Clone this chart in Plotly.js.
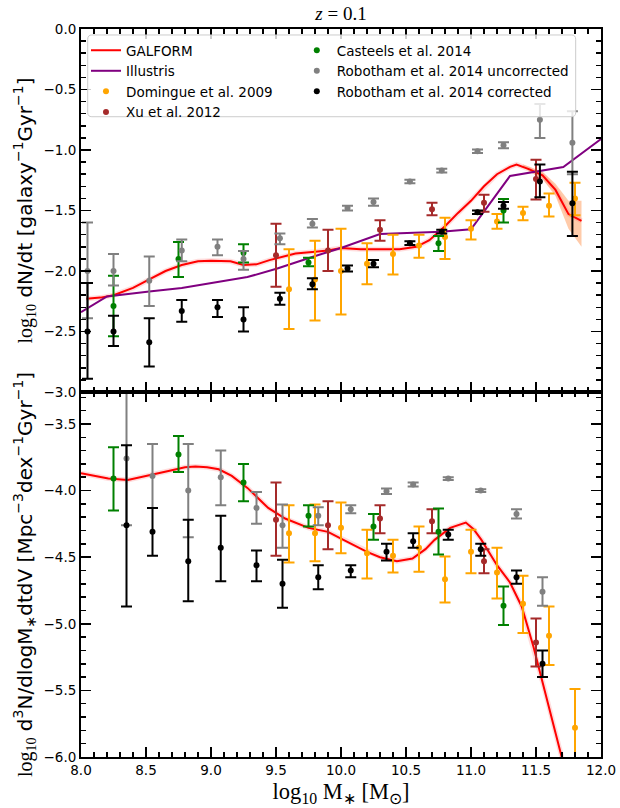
<!DOCTYPE html>
<html><head><meta charset="utf-8">
<script src="https://cdn.plot.ly/plotly-3.0.1.min.js"></script>
<style>body{margin:0;background:#fff;} #chart{width:620px;height:808px;}</style>
</head><body><div id="chart"></div>
<script>
// ---------- GALFORM (top panel: merger rate per galaxy) ----------
const galTopX = [8.04, 8.15, 8.25, 8.4, 8.525, 8.65, 8.775, 8.9, 9.0, 9.15, 9.25, 9.35, 9.45, 9.55, 9.65, 9.8, 9.9, 10.0, 10.15, 10.3, 10.45, 10.58, 10.68, 10.8, 10.9, 11.0, 11.1, 11.2, 11.3, 11.35, 11.45, 11.55, 11.65, 11.75, 11.85];
const galTopY = [-2.23, -2.22, -2.20, -2.14, -2.07, -2.00, -1.95, -1.92, -1.915, -1.92, -1.95, -1.945, -1.91, -1.88, -1.855, -1.84, -1.83, -1.81, -1.82, -1.82, -1.82, -1.80, -1.745, -1.63, -1.52, -1.42, -1.30, -1.20, -1.14, -1.12, -1.16, -1.21, -1.33, -1.53, -1.585];
const galBandX  = [11.40, 11.45, 11.55, 11.65, 11.75, 11.85];
const galBandHi = [-1.12, -1.14, -1.18, -1.28, -1.42, -1.42];
const galBandLo = [-1.13, -1.18, -1.24, -1.38, -1.65, -1.80];

// ---------- Illustris (top panel) ----------
const illX = [8.0, 8.2, 8.525, 8.775, 9.28, 9.51, 9.79, 10.0, 10.3, 10.77, 11.0, 11.3, 11.71, 12.0];
const illY = [-2.34, -2.21, -2.17, -2.14, -2.05, -1.98, -1.88, -1.81, -1.695, -1.675, -1.655, -1.215, -1.14, -0.91];

// ---------- GALFORM (bottom panel: merger rate density) ----------
const galBotX = [8.0, 8.1, 8.21, 8.36, 8.46, 8.56, 8.69, 8.8, 8.88, 8.97, 9.06, 9.16, 9.28, 9.44, 9.57, 9.75, 9.9, 10.0, 10.1, 10.2, 10.3, 10.43, 10.55, 10.65, 10.72, 10.84, 10.96, 11.02, 11.08, 11.2, 11.3, 11.39, 11.48, 11.56, 11.69, 11.75];
const galBotY = [-3.87, -3.89, -3.91, -3.92, -3.90, -3.88, -3.85, -3.825, -3.82, -3.825, -3.84, -3.89, -3.98, -4.13, -4.21, -4.28, -4.31, -4.36, -4.41, -4.46, -4.50, -4.53, -4.51, -4.44, -4.37, -4.28, -4.24, -4.29, -4.37, -4.56, -4.69, -4.87, -5.17, -5.47, -5.97, -6.2];

// ---------- Domingue et al. 2009 ----------
const domX    = [9.6, 9.8, 10.0, 10.2, 10.4, 10.6, 10.8, 11.0, 11.2, 11.4, 11.6, 11.8];
const domTopY  = [-2.15, -2.07, -2.00, -1.94, -1.86, -1.79, -1.72, -1.65, -1.59, -1.52, -1.46, -1.40];
const domTopHi = [-1.82, -1.75, -1.65, -1.77, -1.70, -1.70, -1.56, -1.58, -1.53, -1.47, -1.36, -1.27];
const domTopLo = [-2.48, -2.41, -2.36, -2.11, -2.03, -1.89, -1.90, -1.74, -1.65, -1.58, -1.55, -1.54];
const domBotY  = [-4.32, -4.32, -4.28, -4.47, -4.49, -4.43, -4.665, -4.46, -4.615, -4.85, -5.09, -5.78];
const domBotHi = [-4.11, -4.105, -4.09, -4.295, -4.37, -4.27, -4.495, -4.295, -4.43, -4.64, -4.87, -5.49];
const domBotLo = [-4.54, -4.53, -4.47, -4.66, -4.615, -4.61, -4.84, -4.62, -4.81, -5.07, -5.31, -6.2];

// ---------- Xu et al. 2012 ----------
const xuX     = [9.5, 9.9, 10.3, 10.7, 11.1, 11.5];
const xuTopY  = [-1.87, -1.83, -1.66, -1.49, -1.435, -1.24];
const xuTopHi = [-1.61, -1.66, -1.58, -1.435, -1.37, -1.08];
const xuTopLo = [-2.13, -2.00, -1.75, -1.54, -1.51, -1.41];
const xuBotY  = [-4.22, -4.26, -4.21, -4.23, -4.53, -5.14];
const xuBotHi = [-3.94, -4.08, -4.11, -4.14, -4.44, -4.96];
const xuBotLo = [-4.49, -4.44, -4.32, -4.32, -4.62, -5.32];

// ---------- Casteels et al. 2014 ----------
const casTopX  = [8.25, 8.75, 9.25, 9.75, 10.75, 11.25];
const casTopY  = [-2.29, -1.90, -1.85, -1.93, -1.77, -1.50];
const casTopHi = [-2.04, -1.76, -1.78, -1.89, -1.71, -1.405];
const casTopLo = [-2.54, -2.05, -1.93, -1.96, -1.835, -1.60];
const casBotX  = [8.25, 8.75, 9.25, 9.75, 10.25, 10.75, 11.25];
const casBotY  = [-3.91, -3.73, -3.94, -4.19, -4.27, -4.31, -4.865];
const casBotHi = [-3.675, -3.59, -3.80, -4.11, -4.175, -4.135, -4.72];
const casBotLo = [-4.15, -3.86, -4.08, -4.27, -4.37, -4.48, -5.01];

// ---------- Robotham et al. 2014 (top panel bins) ----------
const robTopX   = [8.05, 8.25, 8.525, 8.775, 9.05, 9.25, 9.53, 9.78, 10.05, 10.25, 10.53, 10.775, 11.05, 11.25, 11.53, 11.78];
const robUTopY  = [-2.00, -2.00, -2.08, -1.83, -1.80, -1.90, -1.73, -1.61, -1.48, -1.43, -1.26, -1.17, -1.01, -0.96, -0.75, -0.94];
const robUTopHi = [-1.60, -1.86, -1.88, -1.74, -1.74, -1.835, -1.69, -1.57, -1.46, -1.40, -1.245, -1.155, -0.995, -0.935, -0.62, -0.68];
const robUTopLo = [-2.39, -2.12, -2.29, -1.92, -1.87, -1.99, -1.78, -1.64, -1.50, -1.46, -1.275, -1.185, -1.025, -0.985, -0.90, -1.20];
const robCTopY  = [-2.50, -2.50, -2.59, -2.33, -2.30, -2.40, -2.23, -2.11, -1.98, -1.94, -1.77, -1.675, -1.515, -1.46, -1.26, -1.44];
const robCTopHi = [-2.10, -2.37, -2.39, -2.24, -2.24, -2.30, -2.18, -2.06, -1.955, -1.91, -1.755, -1.66, -1.50, -1.43, -1.12, -1.18];
const robCTopLo = [-2.89, -2.62, -2.79, -2.42, -2.38, -2.50, -2.28, -2.15, -2.005, -1.97, -1.785, -1.69, -1.53, -1.485, -1.39, -1.71];

// ---------- Robotham et al. 2014 (bottom panel bins) ----------
const robBotX   = [8.35, 8.55, 8.825, 9.075, 9.35, 9.55, 9.825, 10.075, 10.35, 10.555, 10.825, 11.075, 11.35, 11.55];
const robUBotY  = [-3.76, -3.89, -4.00, -3.90, -4.13, -4.26, -4.19, -4.14, -4.005, -3.955, -3.91, -4.00, -4.175, -4.76];
const robUBotHi = [-3.10, -3.65, -3.65, -3.70, -4.01, -4.105, -4.125, -4.11, -3.985, -3.94, -3.90, -3.99, -4.14, -4.65];
const robUBotLo = [-4.26, -4.13, -4.35, -4.11, -4.25, -4.43, -4.26, -4.17, -4.025, -3.97, -3.92, -4.01, -4.21, -4.865];
const robCBotY  = [-4.26, -4.31, -4.53, -4.43, -4.56, -4.70, -4.65, -4.60, -4.46, -4.38, -4.33, -4.44, -4.65, -5.30];
const robCBotHi = [-3.66, -4.13, -4.22, -4.19, -4.45, -4.52, -4.56, -4.56, -4.40, -4.32, -4.295, -4.40, -4.60, -5.20];
const robCBotLo = [-4.87, -4.49, -4.83, -4.68, -4.68, -4.88, -4.74, -4.65, -4.525, -4.43, -4.37, -4.49, -4.70, -5.40];

// ---------- labels ----------
const seriesNames = ['GALFORM', 'Illustris', 'Domingue et al. 2009', 'Xu et al. 2012', 'Casteels et al. 2014', 'Robotham et al. 2014 uncorrected', 'Robotham et al. 2014 corrected'];
const colors = {gal:'#ff0000', ill:'#800080', dom:'#ffa500', xu:'#a52a2a', cas:'#008000', robU:'#808080', robC:'#000000'};

function eb(x, y, hi, lo, color, name, xa, ya, showleg, leg) {
  return {
    type:'scatter', mode:'markers', x:x, y:y, name:name, xaxis:xa, yaxis:ya,
    showlegend:showleg, legend:leg,
    marker:{color:color, size:6},
    error_y:{type:'data', symmetric:false,
      array: hi.map((h,i)=>h - y[i]), arrayminus: lo.map((l,i)=>y[i] - l),
      color:color, thickness:2, width:5.5}
  };
}

const traces = [
  // top panel
  {type:'scatter', mode:'lines', x:galBandX.concat(galBandX.slice().reverse()),
   y:galBandHi.concat(galBandLo.slice().reverse()), fill:'toself', fillcolor:'rgba(255,160,100,0.55)',
   line:{width:0}, hoverinfo:'skip', showlegend:false, xaxis:'x2', yaxis:'y2'},
  {type:'scatter', mode:'lines', x:galTopX, y:galTopY, line:{color:'rgba(255,120,120,0.25)', width:5}, showlegend:false, xaxis:'x2', yaxis:'y2'},
  {type:'scatter', mode:'lines', x:galTopX, y:galTopY, name:seriesNames[0], line:{color:colors.gal, width:2}, xaxis:'x2', yaxis:'y2', legend:'legend'},
  {type:'scatter', mode:'lines', x:illX, y:illY, name:seriesNames[1], line:{color:colors.ill, width:2}, xaxis:'x2', yaxis:'y2', legend:'legend'},
  eb(domX, domTopY, domTopHi, domTopLo, colors.dom, seriesNames[2], 'x2', 'y2', true, 'legend'),
  eb(xuX, xuTopY, xuTopHi, xuTopLo, colors.xu, seriesNames[3], 'x2', 'y2', true, 'legend'),
  eb(casTopX, casTopY, casTopHi, casTopLo, colors.cas, seriesNames[4], 'x2', 'y2', true, 'legend2'),
  eb(robTopX, robUTopY, robUTopHi, robUTopLo, colors.robU, seriesNames[5], 'x2', 'y2', true, 'legend2'),
  eb(robTopX, robCTopY, robCTopHi, robCTopLo, colors.robC, seriesNames[6], 'x2', 'y2', true, 'legend2'),
  // bottom panel
  {type:'scatter', mode:'lines', x:galBotX, y:galBotY, line:{color:'rgba(255,120,120,0.25)', width:5}, showlegend:false, xaxis:'x', yaxis:'y'},
  {type:'scatter', mode:'lines', x:galBotX, y:galBotY, name:seriesNames[0], line:{color:colors.gal, width:2}, showlegend:false, xaxis:'x', yaxis:'y'},
  eb(domX, domBotY, domBotHi, domBotLo, colors.dom, seriesNames[2], 'x', 'y', false),
  eb(xuX, xuBotY, xuBotHi, xuBotLo, colors.xu, seriesNames[3], 'x', 'y', false),
  eb(casBotX, casBotY, casBotHi, casBotLo, colors.cas, seriesNames[4], 'x', 'y', false),
  eb(robBotX, robUBotY, robUBotHi, robUBotLo, colors.robU, seriesNames[5], 'x', 'y', false),
  eb(robBotX, robCBotY, robCBotHi, robCBotLo, colors.robC, seriesNames[6], 'x', 'y', false)
];

const tickFont = {family:'DejaVu Sans', size:13.5, color:'#000'};
const minorCfg = {dtick:0.1, ticklen:5, tickwidth:1.5, tickcolor:'#000', ticks:'inside', showgrid:false};
const axBase = {showline:true, linewidth:2, linecolor:'#000', mirror:'ticks', ticks:'inside', ticklen:10, tickwidth:1.5,
  tickcolor:'#000', showgrid:false, zeroline:false, tickfont:tickFont, minor:minorCfg};

const split = 0.5014;
const ser = 'Liberation Serif';
const yTitleFont = {family:'DejaVu Sans', size:20, color:'#000'};

const lx0 = 0.0129, lx1 = 0.9513, ly0 = 0.8795, ly1 = 0.9918, rx = 0.008, ry = 0.0058;
const boxPath = `M ${lx0+rx},${ly1} L ${lx1-rx},${ly1} Q ${lx1},${ly1} ${lx1},${ly1-ry} L ${lx1},${ly0+ry} Q ${lx1},${ly0} ${lx1-rx},${ly0} L ${lx0+rx},${ly0} Q ${lx0},${ly0} ${lx0},${ly0+ry} L ${lx0},${ly1-ry} Q ${lx0},${ly1} ${lx0+rx},${ly1} Z`;

const legFont = {family:'DejaVu Sans', size:13.5, color:'#000'};

const layout = {
  width:620, height:808,
  margin:{l:81, r:19, t:29, b:51},
  paper_bgcolor:'#fff', plot_bgcolor:'#fff',
  showlegend:true,
  title:{text:'<i>z</i> = 0.1', font:{family:ser, size:19, color:'#000'}, x:0.5, xref:'paper', y:1-13/808, yanchor:'middle'},
  xaxis:Object.assign({}, axBase, {anchor:'y', range:[8,12], dtick:0.5, tick0:8, tickformat:'.1f',
    title:{text:`<span style="font-family:${ser}">log<sub>10</sub> M<sub>∗</sub> [M<sub>⊙</sub>]</span>`, font:{family:ser, size:22.5, color:'#000'}, standoff:6}}),
  xaxis2:Object.assign({}, axBase, {anchor:'y2', matches:'x', range:[8,12], dtick:0.5, tick0:8, showticklabels:false}),
  yaxis:Object.assign({}, axBase, {domain:[0, split], range:[-6, -3.26], dtick:0.5, tick0:-6, tickformat:'.1f',
    title:{text:`<span style="font-family:${ser}">log<sub>10</sub></span> d<sup>3</sup>N/dlogM<sub>∗</sub>dtdV [Mpc<sup>−3</sup>dex<sup>−1</sup>Gyr<sup>−1</sup>]`, font:yTitleFont, standoff:6}}),
  yaxis2:Object.assign({}, axBase, {domain:[split, 1], range:[-3, 0], dtick:0.5, tick0:-3, tickformat:'.1f',
    title:{text:`<span style="font-family:${ser}">log<sub>10</sub></span> dN/dt [galaxy<sup>−1</sup>Gyr<sup>−1</sup>]`, font:yTitleFont, standoff:6}}),
  legend:{x:0.0096, y:0.9918, xanchor:'left', yanchor:'top', bgcolor:'rgba(0,0,0,0)', borderwidth:0,
    font:legFont, tracegroupgap:0, itemwidth:30},
  legend2:{x:0.415, y:0.9918, xanchor:'left', yanchor:'top', bgcolor:'rgba(0,0,0,0)', borderwidth:0,
    font:legFont, tracegroupgap:0, itemwidth:30},
  shapes:[{type:'path', xref:'paper', yref:'paper', path:boxPath, fillcolor:'rgba(255,255,255,0.8)',
    line:{color:'#cccccc', width:1}, layer:'above'}]
};

Plotly.newPlot('chart', traces, layout, {staticPlot:true, displayModeBar:false});
</script></body></html>
